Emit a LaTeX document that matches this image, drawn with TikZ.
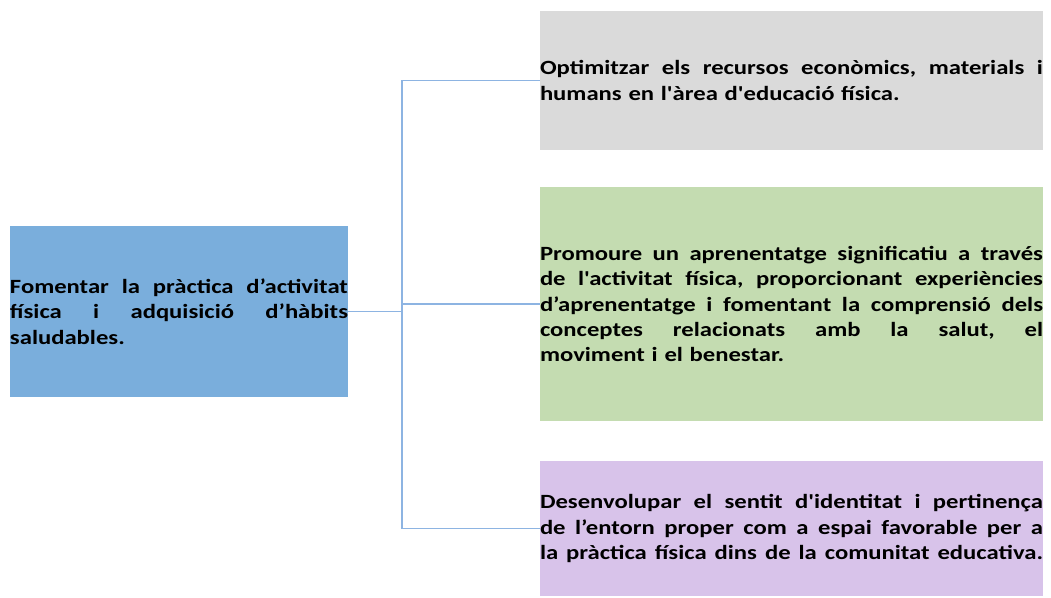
\documentclass[tikz,border=0pt]{standalone}
\usepackage{fontspec}
\setmainfont{Carlito}[Ligatures=TeXOff, FakeStretch=1.22]
\definecolor{fomblue}{RGB}{122,174,220}
\definecolor{optgray}{RGB}{218,218,218}
\definecolor{progreen}{RGB}{196,220,177}
\definecolor{despurple}{RGB}{216,195,234}
\definecolor{linkblue}{RGB}{141,180,226}
\newlength{\jw}
\newcommand{\jbox}[1]{\leavevmode{\frenchspacing\spaceskip=.25em plus 1fil\relax\hbox to\jw{#1}}}
\newcommand{\jline}[1]{\jbox{#1}\\}
\begin{document}
\begin{tikzpicture}[
    box/.style={inner xsep=0pt, inner ysep=0pt, align=left,
        text width=#1, execute at begin node={\setlength{\jw}{#1}},
        font=\bfseries\fontsize{11.5}{14.4}\selectfont},
    link/.style={draw=linkblue, line width=1pt}
  ]
        \useasboundingbox (0,0) rectangle (21.02,11.94);

        \draw (3.58,5.71) node [box=6.76cm, fill=fomblue, minimum height=3.42cm] (fom)
            {\jline{Fomentar la pràctica d’activitat}\jline{física i adquisició d’hàbits}saludables.};
        \draw (15.83,10.33) node [box=10.06cm, fill=optgray, minimum height=2.78cm] (opt)
            {\jline{Optimitzar els recursos econòmics, materials i}humans en l'àrea d'educació física.};
        \draw (15.83,5.86) node [box=10.06cm, fill=progreen, minimum height=4.68cm] (pro)
            {\jline{Promoure un aprenentatge significatiu a través}\jline{de l'activitat física, proporcionant experiències}\jline{d’aprenentatge i fomentant la comprensió dels}\jline{conceptes relacionats amb la salut, el}moviment i el benestar.};
        \draw (15.83,1.37) node [box=10.06cm, fill=despurple, minimum height=2.7cm] (des)
            {\jline{Desenvolupar el sentit d'identitat i pertinença}\jline{de l’entorn proper com a espai favorable per a}\jbox{la pràctica física dins de la comunitat educativa.}};

        \coordinate (hub) at (8.04,5.71);
        \draw[link] (fom.east) -- (hub);
        \draw[link] (hub) |- (opt.west);
        \draw[link] (hub) |- (pro.west);
        \draw[link] (hub) |- (des.west);
    \end{tikzpicture}
\end{document}
